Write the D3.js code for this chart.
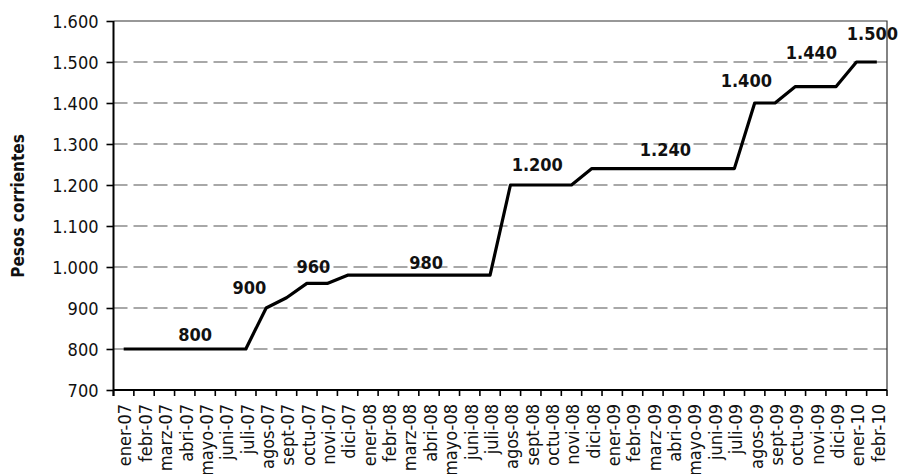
<!DOCTYPE html>
<html>
<head>
<meta charset="utf-8">
<script src="https://cdn.jsdelivr.net/npm/d3@7"></script>
<style>
  html, body { margin: 0; padding: 0; background: #fff; }
  svg { display: block; }
  svg text { font-family: "DejaVu Sans Condensed", "DejaVu Sans", sans-serif; font-stretch: condensed; }
</style>
</head>
<body>
<svg id="chart" width="900" height="474"></svg>
<script>
// Monthly categories, January 2007 to February 2010
const months = [
  "ener-07","febr-07","marz-07","abri-07","mayo-07","juni-07","juli-07","agos-07","sept-07","octu-07","novi-07","dici-07",
  "ener-08","febr-08","marz-08","abri-08","mayo-08","juni-08","juli-08","agos-08","sept-08","octu-08","novi-08","dici-08",
  "ener-09","febr-09","marz-09","abri-09","mayo-09","juni-09","juli-09","agos-09","sept-09","octu-09","novi-09","dici-09",
  "ener-10","febr-10"
];

// Pesos corrientes per month
const pesos = [
  800, 800, 800, 800, 800, 800, 800, 900, 925, 960, 960, 980,
  980, 980, 980, 980, 980, 980, 980, 1200, 1200, 1200, 1200, 1240,
  1240, 1240, 1240, 1240, 1240, 1240, 1240, 1400, 1400, 1440, 1440, 1440,
  1500, 1500
];

// Y axis ticks
const yTicks = [700, 800, 900, 1000, 1100, 1200, 1300, 1400, 1500, 1600];

// Value callouts: anchor month and the value shown
const calloutMonths = ["abri-07", "juli-07", "octu-07", "marz-08", "sept-08", "marz-09", "juli-09", "octu-09", "ener-10"];
const calloutValues = [800, 900, 960, 980, 1200, 1240, 1400, 1440, 1500];

// Pixel nudges for each callout relative to its anchor point
const calloutOffsets = [
  [10.5, -8], [3.5, -14], [6.5, -10.5], [17.5, -6], [6.5, -14],
  [12.5, -13], [12, -16.5], [16, -28], [16, -22.5]
];

(function draw() {
  const svg = d3.select("#chart");
  const pLeft = 113.5, pRight = 887, pTop = 21, pBottom = 390;

  const fmt = d3.formatLocale({ decimal: ",", thousands: ".", grouping: [3], currency: ["$", ""] }).format(",d");

  const x = d3.scaleBand().domain(months).range([pLeft, pRight]).padding(0);
  const y = d3.scaleLinear().domain([700, 1600]).range([pBottom, pTop]);
  const cx = m => x(m) + x.bandwidth() / 2;

  // Dashed gridlines
  svg.append("g")
    .selectAll("line")
    .data(yTicks.filter(v => v !== 700 && v !== 1600))
    .join("line")
    .attr("x1", pLeft).attr("x2", pRight)
    .attr("y1", d => y(d)).attr("y2", d => y(d))
    .attr("stroke", "#a8a8a8")
    .attr("stroke-width", 1.8)
    .attr("stroke-dasharray", "14,6");

  // Frame: top and right edges
  svg.append("path")
    .attr("d", `M${pLeft},${pTop}H${pRight}V${pBottom}`)
    .attr("fill", "none")
    .attr("stroke", "#333")
    .attr("stroke-width", 1.2);

  // Y axis
  const yAxis = svg.append("g")
    .attr("transform", `translate(${pLeft},0)`)
    .call(d3.axisLeft(y).tickValues(yTicks).tickFormat(fmt).tickSize(7).tickPadding(8));
  yAxis.select(".domain").attr("stroke", "#000").attr("stroke-width", 2)
    .attr("d", `M0,${pTop}V${pBottom + 6}`);
  yAxis.selectAll(".tick line").attr("stroke", "#000").attr("stroke-width", 1.6);
  yAxis.selectAll(".tick text")
    .attr("font-family", null)
    .attr("font-size", 18)
    .attr("fill", "#111")
    .attr("dy", "0.34em");

  // X axis baseline
  const xAxis = svg.append("g")
    .attr("transform", `translate(0,${pBottom})`)
    .call(d3.axisBottom(x).tickSize(0).tickFormat(""));
  xAxis.select(".domain").attr("stroke", "#000").attr("stroke-width", 2)
    .attr("d", `M${pLeft},0H${pRight}`);

  // Tick marks at category boundaries
  const bounds = months.map(m => x(m)).concat([pRight]);
  svg.append("g")
    .selectAll("line")
    .data(bounds)
    .join("line")
    .attr("x1", d => d).attr("x2", d => d)
    .attr("y1", pBottom).attr("y2", pBottom + 6)
    .attr("stroke", "#000").attr("stroke-width", 1.6);

  // Rotated month labels
  svg.append("g")
    .selectAll("text")
    .data(months)
    .join("text")
    .attr("transform", d => `translate(${cx(d) + 1.5},${pBottom + 14}) rotate(-90)`)
    .attr("text-anchor", "end")
    .attr("dy", "0.35em")
    .attr("font-size", 18)
    .attr("fill", "#111")
    .text(d => d);

  // Y axis title
  svg.append("text")
    .attr("transform", `translate(24,206) rotate(-90)`)
    .attr("text-anchor", "middle")
    .attr("font-weight", "bold")
    .attr("font-size", 17)
    .attr("fill", "#111")
    .text("Pesos corrientes");

  // Series line
  const line = d3.line()
    .x((d, i) => cx(months[i]))
    .y(d => y(d));

  svg.append("path")
    .datum(pesos)
    .attr("d", line)
    .attr("fill", "none")
    .attr("stroke", "#000")
    .attr("stroke-width", 3.2)
    .attr("stroke-linejoin", "round");

  // Value callouts
  svg.append("g")
    .selectAll("text")
    .data(calloutMonths.map((m, i) => ({ m, v: calloutValues[i], o: calloutOffsets[i] })))
    .join("text")
    .attr("x", d => cx(d.m) + d.o[0])
    .attr("y", d => y(d.v) + d.o[1])
    .attr("text-anchor", "middle")
    .attr("font-weight", "bold")
    .attr("font-size", 18)
    .attr("fill", "#111")
    .text(d => fmt(d.v));
})();
</script>
</body>
</html>
